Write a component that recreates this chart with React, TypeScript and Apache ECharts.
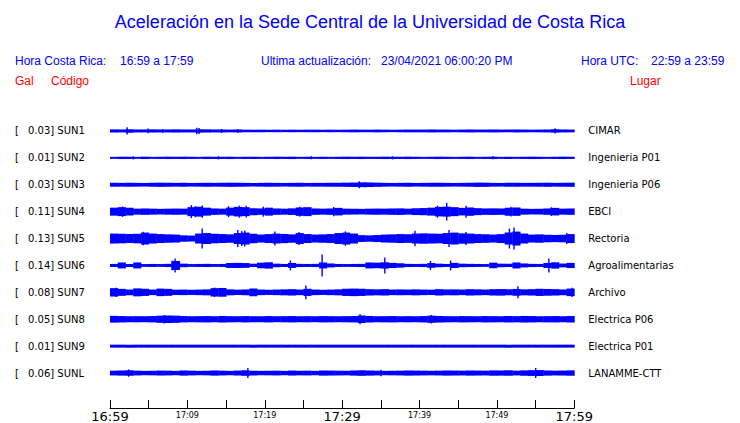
import React, { useEffect, useRef } from "react";
import * as echarts from "echarts";

// ---- Data ----
const CODES = ["SUN1", "SUN2", "SUN3", "SUN4", "SUN5", "SUN6", "SUN7", "SUN8", "SUN9", "SUNL"];
const GAL = [0.03, 0.01, 0.03, 0.11, 0.13, 0.14, 0.08, 0.05, 0.01, 0.06];
const PLACES = [
  "CIMAR", "Ingenieria P01", "Ingenieria P06", "EBCI", "Rectoria",
  "Agroalimentarias", "Archivo", "Electrica P06", "Electrica P01", "LANAMME-CTT",
];

// time-axis labels (minutes after 16:59)
const LABEL_MINUTES = [0, 10, 20, 30, 40, 50, 60];
const LABEL_TEXT = ["16:59", "17:09", "17:19", "17:29", "17:39", "17:49", "17:59"];
const MAJOR_LABELS = ["16:59", "17:29", "17:59"];

// envelope (half peak-to-peak amplitude per minute, display units; 13.5 = half row)
const SUN1 = [1.6,1.5,1.7,1.5,1.5,1.6,1.5,1.5,1.6,1.5, 1.5,1.7,1.6,1.5,1.5,1.4,1.5,1.3,1.2,1.3, 1.2,1.3,1.2,1.3,1.2,1.3,1.3,1.2,1.3,1.2, 1.3,1.4,1.3,1.3,1.4,1.3,1.2,1.3,1.4,1.4, 1.4,1.5,1.4,1.4,1.3,1.4,1.5,1.4,1.4,1.5, 1.4,1.4,1.5,1.4,1.3,1.4,1.5,1.7,1.5,1.4];
const SUN2 = [1.0,1.2,1.1,1.0,1.2,1.0,1.1,1.2,1.1,1.2, 1.1,1.0,1.2,1.1,1.1,1.2,1.0,1.1,1.2,1.0, 1.1,1.2,1.1,1.2,1.0,1.1,1.0,1.1,1.0,1.1, 1.2,1.1,1.2,1.1,1.1,1.2,1.1,1.1,1.2,1.1, 1.0,1.1,1.2,1.1,1.0,1.1,1.2,1.0,1.1,1.2, 1.0,1.1,1.0,1.1,1.2,1.1,1.0,1.1,1.2,1.1];
const SUN3 = [2.0,1.9,2.1,1.9,1.8,2.0,2.1,2.0,1.9,2.0, 1.8,1.9,2.0,1.9,2.0,2.1,2.0,1.9,1.8,1.9, 2.0,1.9,1.8,1.9,2.0,1.8,1.9,1.9,2.0,2.0, 2.1,2.2,2.4,2.3,2.1,1.9,1.8,1.9,2.0,1.8, 1.9,2.0,2.0,1.9,1.8,1.9,2.0,2.2,2.1,1.9, 1.8,1.9,2.0,1.9,1.9,2.0,2.1,1.9,2.0,2.1];
const SUN4 = [4.0,4.5,3.8,3.0,3.2,3.0,2.8,3.0,3.1,3.0, 4.5,5.0,4.0,3.2,3.0,4.0,4.8,4.5,3.5,3.2, 4.0,3.2,3.0,3.3,4.2,4.5,3.2,3.0,3.2,3.8, 3.0,2.9,2.8,3.0,3.1,3.0,3.2,3.3,3.0,3.4, 3.6,4.0,4.8,5.0,4.5,3.8,4.2,3.5,3.2,3.3, 3.2,4.0,4.2,3.0,2.8,2.9,3.2,3.8,3.0,3.2];
const SUN5 = [5.0,4.8,4.5,4.8,6.0,5.0,4.5,4.2,4.0,3.2, 3.0,5.0,5.5,4.8,4.5,4.2,5.5,6.0,4.8,4.0, 4.5,5.0,4.6,4.2,5.5,4.5,4.0,4.2,4.5,5.5, 6.0,5.0,3.4,3.2,3.5,4.0,4.2,4.5,4.3,5.0, 5.2,5.0,4.8,5.5,6.0,5.2,5.0,4.5,4.3,4.0, 4.5,6.0,7.0,5.0,4.0,4.2,3.8,3.6,3.8,4.5];
const SUN6 = [1.5,3.0,1.5,3.0,1.4,1.5,1.4,1.6,4.5,1.8, 1.4,1.5,1.6,1.4,1.5,2.5,2.6,2.4,1.6,2.8, 3.2,1.8,1.5,2.5,1.6,1.5,1.6,3.0,2.0,1.5, 1.4,1.5,1.6,3.0,2.8,3.2,2.6,2.2,1.6,1.5, 1.6,2.4,1.8,1.5,2.6,1.8,1.6,1.5,1.4,2.8, 1.8,1.6,3.0,2.0,1.6,1.5,2.5,3.2,1.9,2.6];
const SUN7 = [4.2,3.5,2.8,4.0,3.6,2.8,3.8,3.5,2.7,2.8, 2.6,2.8,3.0,4.2,4.4,3.0,2.7,2.9,3.8,2.8, 2.6,2.8,3.0,3.2,2.8,3.6,2.8,2.6,2.8,3.0, 3.6,3.8,3.6,3.2,3.0,3.2,2.8,2.9,2.8,3.0, 2.8,2.7,3.2,2.9,3.0,2.8,3.2,3.0,2.8,3.2, 3.3,3.0,3.4,3.0,3.2,3.6,3.4,3.2,2.9,3.8];
const SUN8 = [3.4,3.2,3.0,3.1,3.0,3.2,3.6,3.8,3.6,3.2, 3.0,3.1,3.2,3.0,3.3,3.1,3.0,3.2,3.1,3.0, 3.2,3.0,3.1,3.2,3.0,3.1,3.0,3.2,3.1,3.0, 3.1,3.2,3.8,3.3,3.0,3.1,3.2,3.0,3.1,3.0, 3.2,3.6,3.3,3.1,3.0,3.2,3.1,3.0,3.2,3.1, 3.0,3.2,3.1,3.3,3.2,3.0,3.1,3.2,3.0,3.3];
const SUN9 = [1.5,1.5,1.5,1.5,1.5,1.5,1.5,1.5,1.5,1.5, 1.5,1.5,1.5,1.5,1.5,1.5,1.5,1.5,1.5,1.5, 1.5,1.5,1.5,1.5,1.5,1.5,1.5,1.5,1.5,1.5, 1.5,1.5,1.5,1.5,1.5,1.5,1.5,1.5,1.5,1.5, 1.5,1.5,1.5,1.5,1.5,1.5,1.5,1.5,1.5,1.5, 1.5,1.5,1.5,1.5,1.5,1.5,1.5,1.5,1.5,1.5];
const SUNL = [2.4,2.6,2.8,2.4,2.2,2.3,2.5,2.4,2.2,2.6, 2.4,2.2,2.3,2.6,2.4,2.2,2.5,2.8,2.4,2.2, 2.3,2.4,2.2,2.5,2.3,2.4,2.2,2.6,2.5,2.4, 2.3,2.6,2.8,2.6,2.4,2.2,2.3,2.4,2.6,2.5, 2.4,2.3,2.4,2.6,2.5,2.4,2.6,2.5,2.4,2.7, 2.6,2.8,2.4,2.7,2.9,3.0,2.6,2.4,2.5,2.7];
const ENVELOPES = [SUN1, SUN2, SUN3, SUN4, SUN5, SUN6, SUN7, SUN8, SUN9, SUNL];

// isolated peaks: [minute, half amplitude]
const SPIKES_SUN1 = [[2.2, 3.6], [4.9, 2.4], [6.8, 1.8], [11.2, 3.2], [11.5, 3.0], [14.4, 2.0], [16.5, 1.8], [57.5, 2.6]];
const SPIKES_SUN2 = [[3.0, 1.6], [14.0, 1.6], [26.0, 1.5], [36.5, 1.6], [49.5, 1.5]];
const SPIKES_SUN3 = [[32.2, 3.4], [33.0, 2.6]];
const SPIKES_SUN4 = [[1.6, 5.2], [10.5, 6.5], [11.0, 5.5], [11.9, 6.2], [15.3, 5.5], [16.7, 6.0], [17.6, 5.8], [19.8, 5.0], [24.5, 5.0], [28.9, 4.6], [42.3, 6.0], [43.5, 9.0], [46.0, 6.0], [51.8, 4.8], [57.0, 4.4]];
const SPIKES_SUN5 = [[4.3, 6.8], [11.9, 10.0], [16.5, 8.5], [17.0, 7.5], [17.4, 8.0], [21.3, 7.0], [24.4, 6.5], [30.4, 7.2], [39.4, 7.8], [43.8, 8.5], [46.0, 6.5], [51.6, 10.0], [52.2, 11.0], [59.0, 5.5]];
const SPIKES_SUN6 = [[8.0, 4.8], [8.4, 7.0], [23.3, 5.0], [27.4, 11.0], [35.5, 8.0], [41.4, 4.5], [44.0, 5.0], [56.7, 7.0]];
const SPIKES_SUN7 = [[0.8, 4.6], [13.5, 4.8], [25.3, 7.0], [52.7, 6.0], [59.7, 4.6]];
const SPIKES_SUN8 = [[7.0, 4.2], [32.3, 5.0], [41.5, 4.2]];
const SPIKES_SUN9: number[][] = [];
const SPIKES_SUNL = [[2.4, 3.6], [17.8, 5.0], [35.0, 3.2], [55.0, 5.0]];
const SPIKES = [SPIKES_SUN1, SPIKES_SUN2, SPIKES_SUN3, SPIKES_SUN4, SPIKES_SUN5, SPIKES_SUN6, SPIKES_SUN7, SPIKES_SUN8, SPIKES_SUN9, SPIKES_SUNL];

const HALF_ROW_UNITS = 13.5;
const BLUE = "#0000ff";
const RED = "#ff0000";
const SANS = "Liberation Sans, Arial, sans-serif";
const DEJAVU = "DejaVu Sans, sans-serif";

export default function App() {
  const ref = useRef<HTMLDivElement>(null);

  useEffect(() => {
    if (!ref.current) return;
    const chart = echarts.init(ref.current, undefined, { renderer: "svg" });

    const bandData: number[][] = [];
    ENVELOPES.forEach((env, row) => env.forEach((a, m) => bandData.push([m, row, a])));
    const spikeData: number[][] = [];
    SPIKES.forEach((sp, row) => sp.forEach(([m, a]) => spikeData.push([m, row, a])));

    const ampScale = (api: any) => api.size([0, 1])[1] / 2 / HALF_ROW_UNITS;

    const option: any = {
      animation: false,
      backgroundColor: "#ffffff",
      grid: { left: 110, right: 165.7, top: 117.5, bottom: 35.5, containLabel: false },
      xAxis: {
        type: "value",
        min: 0,
        max: 60,
        interval: 5,
        offset: 21.5,
        splitLine: { show: false },
        axisLine: { show: true, lineStyle: { color: "#000", width: 1 } },
        axisTick: { show: true, inside: true, length: 8, lineStyle: { color: "#000", width: 1 } },
        axisLabel: {
          show: true,
          margin: 1,
          showMaxLabel: true,
          showMinLabel: true,
          formatter: (v: number) => {
            const i = LABEL_MINUTES.indexOf(v);
            if (i < 0) return "";
            const t = LABEL_TEXT[i];
            return MAJOR_LABELS.includes(t) ? `{big|${t}}` : `{small|${t}}`;
          },
          rich: {
            big: { fontSize: 13, fontFamily: DEJAVU, color: "#000", lineHeight: 15 },
            small: { fontSize: 8, fontFamily: DEJAVU, color: "#000", lineHeight: 12 },
          },
        },
      },
      yAxis: [
        {
          type: "category",
          data: CODES,
          inverse: true,
          axisLine: { show: false },
          axisTick: { show: false },
          splitLine: { show: false },
          axisLabel: {
            align: "left",
            margin: 95,
            formatter: (val: string, idx: number) => `{b|[}{v|${GAL[idx].toFixed(2)}] ${val}}`,
            rich: {
              b: { width: 13, fontSize: 10, fontFamily: DEJAVU, color: "#000" },
              v: { fontSize: 10, fontFamily: DEJAVU, color: "#000" },
            },
          },
        },
        {
          type: "category",
          data: PLACES,
          inverse: true,
          position: "right",
          axisLine: { show: false },
          axisTick: { show: false },
          splitLine: { show: false },
          axisLabel: {
            align: "left",
            margin: 14,
            fontSize: 10,
            fontFamily: DEJAVU,
            color: "#000",
          },
        },
      ],
      series: [
        {
          type: "custom",
          name: "envelope",
          coordinateSystem: "cartesian2d",
          data: bandData,
          encode: { x: 0, y: 1 },
          renderItem: (params: any, api: any) => {
            const m = api.value(0);
            const row = api.value(1);
            const a = api.value(2);
            const p0 = api.coord([m, row]);
            const p1 = api.coord([m + 1, row]);
            const h = a * ampScale(api);
            return {
              type: "rect",
              shape: { x: p0[0], y: p0[1] - h, width: p1[0] - p0[0] + 0.4, height: 2 * h },
              style: { fill: BLUE },
            };
          },
        },
        {
          type: "custom",
          name: "spikes",
          coordinateSystem: "cartesian2d",
          data: spikeData,
          encode: { x: 0, y: 1 },
          renderItem: (params: any, api: any) => {
            const m = api.value(0);
            const row = api.value(1);
            const a = api.value(2);
            const p = api.coord([m, row]);
            const h = a * ampScale(api);
            return {
              type: "rect",
              shape: { x: p[0] - 0.6, y: p[1] - h, width: 1.4, height: 2 * h },
              style: { fill: BLUE },
            };
          },
        },
      ],
      graphic: [
        {
          type: "text", left: "center", top: 13,
          style: { text: "Aceleración en la Sede Central de la Universidad de Costa Rica", fill: BLUE, font: `18px ${SANS}` },
        },
        { type: "text", x: 15, y: 61, style: { text: "Hora Costa Rica:", fill: BLUE, font: `12px ${SANS}`, textVerticalAlign: "middle" } },
        { type: "text", x: 120, y: 61, style: { text: "16:59 a 17:59", fill: BLUE, font: `12px ${SANS}`, textVerticalAlign: "middle" } },
        { type: "text", x: 261, y: 61, style: { text: "Ultima actualización:", fill: BLUE, font: `12px ${SANS}`, textVerticalAlign: "middle" } },
        { type: "text", x: 381, y: 61, style: { text: "23/04/2021 06:00:20 PM", fill: BLUE, font: `12px ${SANS}`, textVerticalAlign: "middle" } },
        { type: "text", x: 581, y: 61, style: { text: "Hora UTC:", fill: BLUE, font: `12px ${SANS}`, textVerticalAlign: "middle" } },
        { type: "text", x: 651, y: 61, style: { text: "22:59 a 23:59", fill: BLUE, font: `12px ${SANS}`, textVerticalAlign: "middle" } },
        { type: "text", x: 15, y: 81, style: { text: "Gal", fill: RED, font: `12px ${SANS}`, textVerticalAlign: "middle" } },
        { type: "text", x: 51, y: 81, style: { text: "Código", fill: RED, font: `12px ${SANS}`, textVerticalAlign: "middle" } },
        { type: "text", x: 630, y: 81, style: { text: "Lugar", fill: RED, font: `12px ${SANS}`, textVerticalAlign: "middle" } },
      ],
    };

    chart.setOption(option);
    return () => chart.dispose();
  }, []);

  return (
    <div
      ref={ref}
      style={{ position: "absolute", left: 0, top: 0, width: 740, height: 423, background: "#fff" }}
    />
  );
}
